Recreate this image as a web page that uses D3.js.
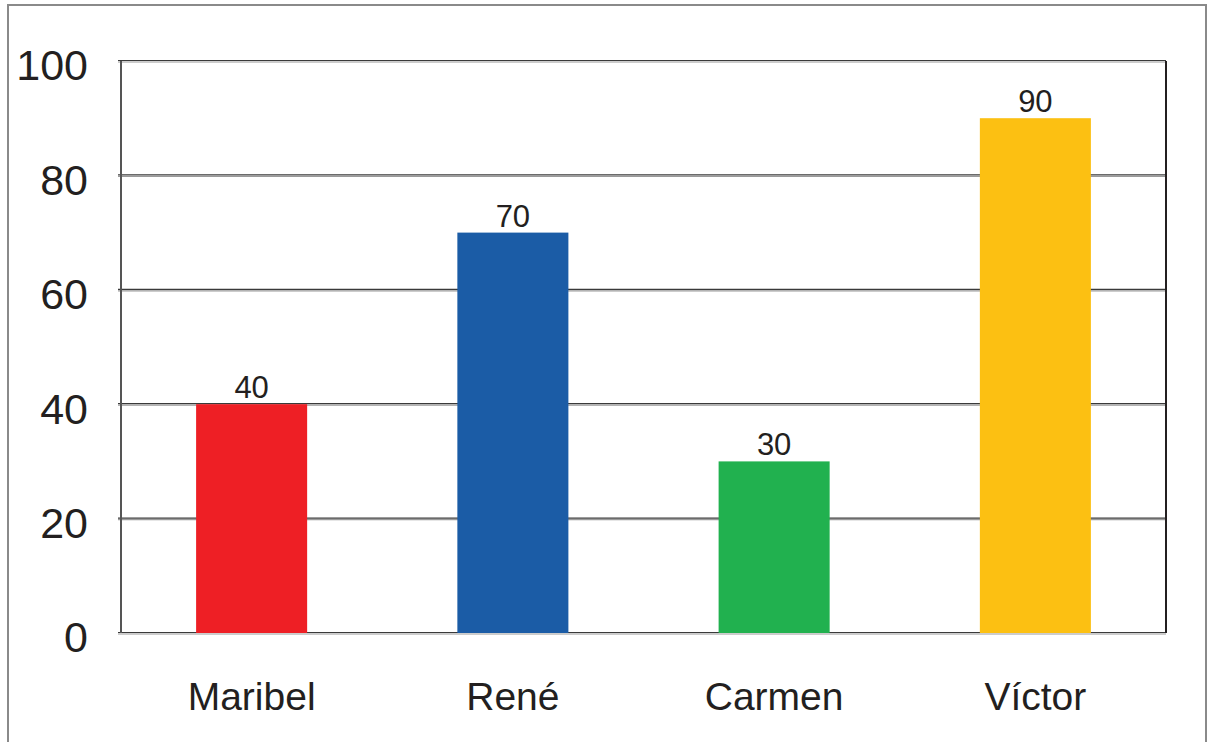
<!DOCTYPE html>
<html>
<head>
<meta charset="utf-8">
<script src="https://cdn.jsdelivr.net/npm/d3@7"></script>
<style>
  body { margin: 0; background: #fff; }
  text { font-family: "Liberation Sans", Arial, sans-serif; fill: #231f20; }
</style>
</head>
<body>
<div id="chart"></div>
<script>
var names = ["Maribel", "René", "Carmen", "Víctor"];
var values = [40, 70, 30, 90];
var colors = ["#ee1f25", "#1b5ca6", "#21b14f", "#fcc012"];
var yTicks = [0, 20, 40, 60, 80, 100];

var width = 1208, height = 742,
    margin = {top: 61, right: 42, bottom: 109, left: 121},
    plotW = width - margin.left - margin.right,
    plotH = height - margin.top - margin.bottom;

var svg = d3.select("#chart")
    .append("svg")
      .attr("width", width)
      .attr("height", height);

// outer frame
svg.append("rect")
    .attr("x", 8).attr("y", 5)
    .attr("width", 1198).attr("height", 760)
    .attr("fill", "none")
    .attr("stroke", "#8a8a8a")
    .attr("stroke-width", 2);

var g = svg.append("g")
    .attr("transform", `translate(${margin.left}, ${margin.top})`);

var x = d3.scaleBand()
    .domain(names)
    .range([0, plotW])
    .paddingInner(0.575)
    .paddingOuter(0.2875);

var y = d3.scaleLinear()
    .domain([0, 100])
    .range([plotH, 0]);

// gridlines (drawn as dark line + light shadow)
var grid = g.selectAll(".grid")
    .data(yTicks)
  .enter().append("g")
    .attr("class", "grid")
    .attr("transform", d => `translate(0, ${y(d)})`);

grid.append("line")
    .attr("x1", -3).attr("x2", plotW)
    .attr("y1", -0.5).attr("y2", -0.5)
    .attr("stroke", "#3a3a3a")
    .attr("stroke-width", 1.2);

grid.append("line")
    .attr("x1", -3).attr("x2", plotW)
    .attr("y1", 1).attr("y2", 1)
    .attr("stroke", "#9a9a9a")
    .attr("stroke-width", 1.2);

// left and right frame
g.append("line")
    .attr("x1", 0).attr("x2", 0)
    .attr("y1", 0).attr("y2", plotH)
    .attr("stroke", "#555")
    .attr("stroke-width", 2);

g.append("line")
    .attr("x1", plotW).attr("x2", plotW)
    .attr("y1", 0).attr("y2", plotH)
    .attr("stroke", "#231f20")
    .attr("stroke-width", 2);

// y tick labels
g.selectAll(".ytick")
    .data(yTicks)
  .enter().append("text")
    .attr("class", "ytick")
    .attr("x", -33)
    .attr("y", d => y(d))
    .attr("dy", "0.45em")
    .attr("text-anchor", "end")
    .style("font-size", "43px")
    .text(d => d);

// bars
var data = names.map((n, i) => ({name: n, value: values[i], color: colors[i]}));

g.selectAll(".bar")
    .data(data)
  .enter().append("rect")
    .attr("class", "bar")
    .attr("x", d => x(d.name))
    .attr("y", d => y(d.value))
    .attr("width", x.bandwidth())
    .attr("height", d => plotH - y(d.value))
    .attr("fill", d => d.color);

// value labels
g.selectAll(".val")
    .data(data)
  .enter().append("text")
    .attr("class", "val")
    .attr("x", d => x(d.name) + x.bandwidth() / 2)
    .attr("y", d => y(d.value) - 6)
    .attr("text-anchor", "middle")
    .style("font-size", "31px")
    .text(d => d.value);

// category labels
g.selectAll(".cat")
    .data(data)
  .enter().append("text")
    .attr("class", "cat")
    .attr("x", d => x(d.name) + x.bandwidth() / 2)
    .attr("y", plotH + 77)
    .attr("text-anchor", "middle")
    .style("font-size", "39px")
    .text(d => d.name);
</script>
</body>
</html>
